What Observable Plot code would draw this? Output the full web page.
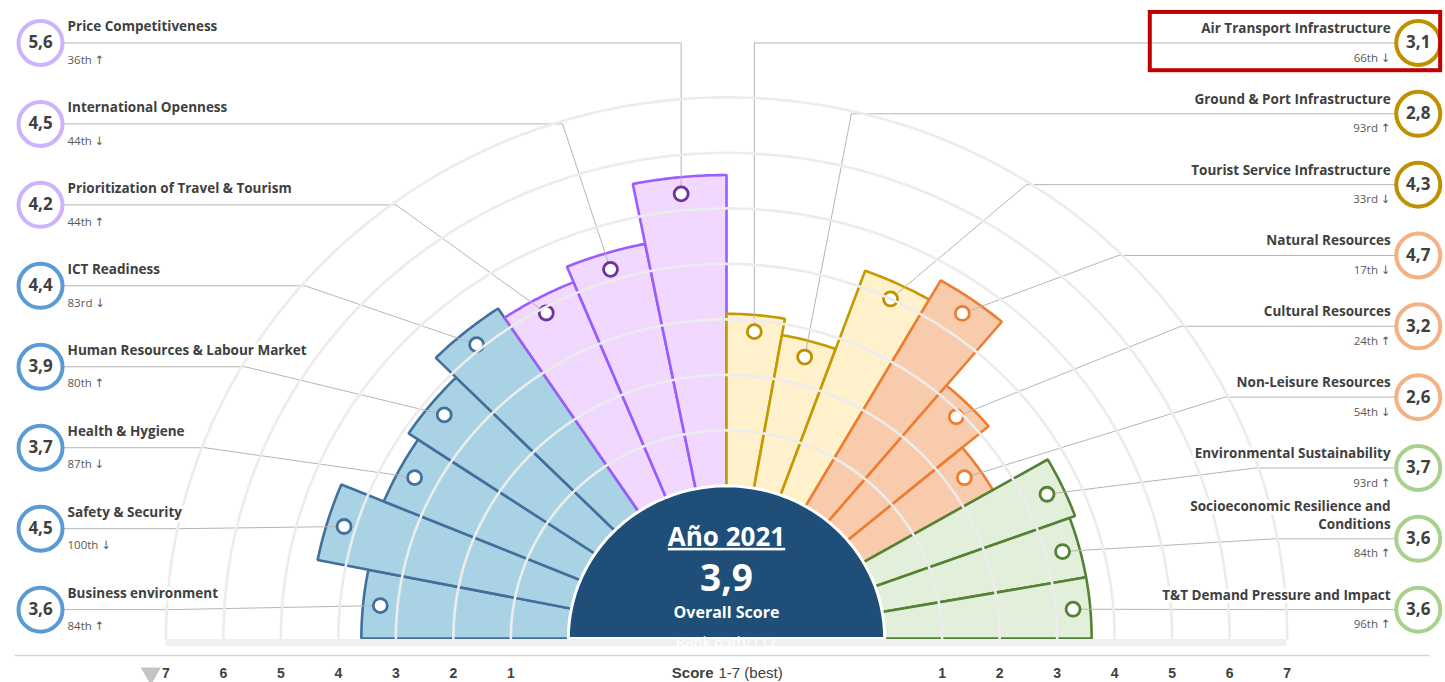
<!DOCTYPE html>
<html><head><meta charset="utf-8">
<script src="https://cdn.jsdelivr.net/npm/d3@7"></script>
<script src="https://cdn.jsdelivr.net/npm/@observablehq/plot@0.6"></script>
<style>
html,body{margin:0;padding:0;background:#fff;}
#chart{width:1445px;height:682px;overflow:hidden;}
</style></head><body><div id="chart"></div>
<script>
// ---------------- DATA ----------------
// pillars in wedge order, clockwise from the left baseline
const pillars = [
  "Business environment", "Safety & Security", "Health & Hygiene",
  "Human Resources & Labour Market", "ICT Readiness",
  "Prioritization of Travel & Tourism", "International Openness", "Price Competitiveness",
  "Air Transport Infrastructure", "Ground & Port Infrastructure", "Tourist Service Infrastructure",
  "Natural Resources", "Cultural Resources", "Non-Leisure Resources",
  "Environmental Sustainability", "Socioeconomic Resilience and\nConditions", "T&T Demand Pressure and Impact"
];
const scores = [3.6, 4.5, 3.7, 3.9, 4.4, 4.2, 4.5, 5.6, 3.1, 2.8, 4.3, 4.7, 3.2, 2.6, 3.7, 3.6, 3.6];
const ranks  = ["84th","100th","87th","80th","83rd","44th","44th","36th","66th","93rd","33rd","17th","24th","54th","93rd","84th","96th"];
const trends = ["↑","↓","↓","↑","↓","↑","↓","↑","↓","↑","↓","↓","↑","↓","↑","↑","↑"];
const pillarGroup = [0,0,0,0,0,1,1,1,2,2,2,3,3,3,4,4,4];
const leftCount = 8;
const groupFill   = ["#a9d3e5", "#f0d8fe", "#fff1cc", "#f7cbac", "#e2efda"];
const groupStroke = ["#41709c", "#9b5cff", "#c49a00", "#ee7d31", "#548235"];
const groupDot    = ["#41709c", "#7030a0", "#bf9000", "#ee7d31", "#548235"];
const groupBadge  = ["#5b9bd5", "#cbb3fd", "#bf9000", "#f4b183", "#a9d18e"];
const overallYear = "Año 2021";
const overallScore = 3.9;
const overallLabel = "Overall Score";
const overallRank = "Rank 65th/117";
const scoreTicks = [1, 2, 3, 4, 5, 6, 7];
const highlighted = "Air Transport Infrastructure";

// ---------------- GEOMETRY HELPERS ----------------
const R0 = 2.75;                       // inner radius (score units)
const rad = v => R0 + v;               // radial scale: score -> radius
const toRad = a => a * Math.PI / 180;
const polar = (r, a) => ({x: r * Math.cos(toRad(a)), y: r * Math.sin(toRad(a))});
const fmt = v => d3.format(".1f")(v).replace(".", ",");
const nRight = pillars.length - leftCount;
const stepL = 90 / leftCount, stepR = 90 / nRight;

const LAB_TOP = 10.73, LAB_BOT = 0.52;
const leftBadgeX = -11.93, rightBadgeX = 12.03;
const leftTextX = -11.46, rightTextX = 11.55;
const leftLineX = -11.55, rightLineX = 11.63;
const Re = 9.7;

const rows = pillars.map((name, i) => {
  const left = i < leftCount;
  const a0 = left ? 180 - stepL * i : 90 - stepR * (i - leftCount);
  const a1 = left ? a0 - stepL : a0 - stepR;
  const mid = (a0 + a1) / 2;
  const row = left ? (leftCount - 1 - i) : (i - leftCount);
  const ly = left ? LAB_TOP - row * (LAB_TOP - LAB_BOT) / (leftCount - 1)
                  : LAB_TOP - row * (LAB_TOP - LAB_BOT) / (nRight - 1);
  const dot = polar(rad(scores[i]) - 0.3, mid);
  const s = left ? -1 : 1;
  let ex = dot.x;
  if (ly < Re) {
    const cand = s * Math.sqrt(Re * Re - ly * ly);
    if (s * cand > s * dot.x) ex = cand;
  }
  return {i, name, score: scores[i], rank: ranks[i], trend: trends[i], g: pillarGroup[i],
          left, a0, a1, mid, ly, dot, ex, s};
});
const leftRows = rows.filter(d => d.left);
const rightRows = rows.filter(d => !d.left);

function arcPts(r, a0, a1, n) {
  const pts = [];
  for (let k = 0; k <= n; k++) pts.push(polar(r, a0 + (a1 - a0) * k / n));
  return pts;
}

// wedge marks
const wedgeMarks = rows.map(d => {
  const pts = [{x: 0, y: 0}, ...arcPts(rad(d.score), d.a0, d.a1, 30)];
  return Plot.line(pts, {x: "x", y: "y", fill: groupFill[d.g], stroke: groupStroke[d.g],
    strokeWidth: 2.6, curve: "linear-closed", strokeLinejoin: "miter"});
});

// rings
const ringPts = scoreTicks.flatMap(k => arcPts(rad(k), 180, 0, 160).map(p => ({...p, k})));

// leader lines
const leaderPts = rows.flatMap(d => [
  {x: d.left ? leftLineX : rightLineX, y: d.ly, i: d.i},
  {x: d.ex, y: d.ly, i: d.i},
  {x: d.dot.x, y: d.dot.y, i: d.i}
]);

// overall semicircle
const innerPts = arcPts(R0, 180, 0, 120);

const axisY = -0.306, tickY = -0.63;
const tickData = scoreTicks.flatMap(k => [{k, x: -rad(k)}, {k, x: rad(k)}]);

const hl = rows.find(d => d.name === highlighted);

const font = "'Open Sans', 'DejaVu Sans', sans-serif";
const axisFont = "'Liberation Sans', Arial, sans-serif";

function labelMarks(data, left) {
  const tx = left ? leftTextX : rightTextX;
  const anchor = left ? "start" : "end";
  return [
    Plot.text(data, {x: tx, y: "ly", text: "name", textAnchor: anchor, lineAnchor: "bottom",
      dy: left ? -12 : -10, lineHeight: 1.35, fontSize: 13.5, fontWeight: "bold", fill: "#404040",
      stroke: "white", strokeWidth: 6, paintOrder: "stroke", strokeLinejoin: "round"}),
    Plot.text(data, {x: tx, y: "ly", text: d => d.rank + " " + d.trend, textAnchor: anchor,
      dy: left ? 17 : 15, fontSize: 11.5, fill: "#595959",
      stroke: "white", strokeWidth: 5, paintOrder: "stroke", strokeLinejoin: "round"})
  ];
}

const chart = Plot.plot({
  width: 1445, height: 682, margin: 0,
  x: {domain: [-12.626, 12.504], axis: null},
  y: {domain: [-0.793, 11.495], axis: null},
  style: {background: "white", fontFamily: font, overflow: "visible"},
  marks: [
    ...wedgeMarks,
    Plot.line(leaderPts, {x: "x", y: "y", z: "i", stroke: "#b5b5b5", strokeWidth: 1}),
    Plot.dot(rows, {x: d => d.dot.x, y: d => d.dot.y, r: 7, fill: "white",
      stroke: d => groupDot[d.g], strokeWidth: 2.8}),
    Plot.line(ringPts, {x: "x", y: "y", z: "k", stroke: "#ececec", strokeWidth: 2.6}),
    // overall semicircle
    Plot.line(innerPts, {x: "x", y: "y", fill: "#1f4e79", stroke: "white", strokeWidth: 3, curve: "linear-closed"}),
    Plot.ruleY([0], {x1: -rad(7), x2: rad(7), stroke: "#efefef", strokeWidth: 7, dy: 4}),
    Plot.text([overallYear], {x: 0, y: 0, dy: -101, text: d => d, fill: "white", fontSize: 26, fontWeight: "bold"}),
    Plot.text([overallScore], {x: 0, y: 0, dy: -59, text: d => fmt(d), fill: "white", fontSize: 37, fontWeight: "bold"}),
    Plot.text([overallLabel], {x: 0, y: 0, dy: -26, text: d => d, fill: "white", fontSize: 16, fontWeight: "bold"}),
    Plot.text([overallRank], {x: 0, y: 0, dy: 4, text: d => d, fill: "white", fontSize: 15}),
    // badges
    Plot.dot(rows, {x: d => d.left ? leftBadgeX : rightBadgeX, y: "ly", r: 22, fill: "white",
      stroke: d => groupBadge[d.g], strokeWidth: 4}),
    Plot.text(rows, {x: d => d.left ? leftBadgeX : rightBadgeX, y: "ly", text: d => fmt(d.score),
      fontSize: 17, fontWeight: "bold", fill: "#404040"}),
    ...labelMarks(leftRows, true),
    ...labelMarks(rightRows, false),
    // highlight box
    Plot.rect([hl], {x1: rightTextX - 4.18, x2: rightBadgeX + 0.39, y1: d => d.ly + 0.55, y2: d => d.ly - 0.5,
      fill: "none", stroke: "#c00000", strokeWidth: 4}),
    // bottom axis
    Plot.ruleY([axisY], {x1: -12.37, x2: 12.24, stroke: "#d4d4d4", strokeWidth: 1.5}),
    Plot.text(tickData, {x: "x", y: tickY, text: d => String(d.k), fontSize: 14, fontWeight: "bold",
      fill: "#404040", fontFamily: axisFont}),
    Plot.dot([7], {x: d => -rad(d), y: tickY, dx: -15, symbol: "triangle", rotate: 180, r: 7.5, fill: "#c4c4c4"}),
    Plot.text(["Score"], {x: 0, y: tickY, dx: -13, text: d => d, textAnchor: "end", fontSize: 15,
      fontWeight: "bold", fill: "#404040", fontFamily: axisFont}),
    Plot.text(["1-7 (best)"], {x: 0, y: tickY, dx: -8, text: d => d, textAnchor: "start", fontSize: 15,
      fill: "#404040", fontFamily: axisFont})
  ]
});
document.getElementById("chart").appendChild(chart);
chart.querySelectorAll("text").forEach(t => {
  if (t.textContent === overallYear) t.style.textDecoration = "underline";
});
</script></body></html>
